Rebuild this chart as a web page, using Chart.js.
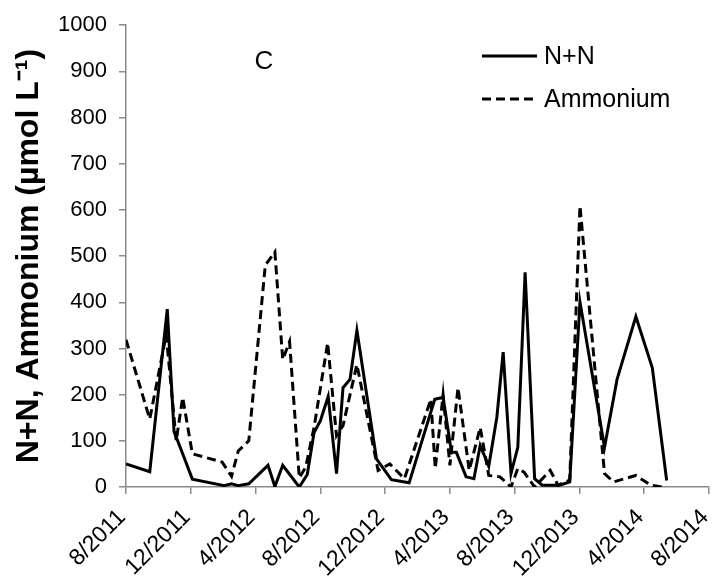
<!DOCTYPE html>
<html>
<head>
<meta charset="utf-8">
<script src="https://cdn.jsdelivr.net/npm/chart.js@4/dist/chart.umd.min.js"></script>
<style>
  html, body { margin: 0; padding: 0; background: #fff; }
  #wrap { width: 712px; height: 584px; position: relative; }
</style>
</head>
<body>
<div id="wrap"><canvas id="c" width="712" height="584"></canvas></div>
<script>
// ---- Data ----
const seriesNames = ["N+N", "Ammonium"];
const panelLabel = "C";
const yTitle = "N+N, Ammonium (\u00B5mol L\u207B\u00B9)";
const yTicks = [0, 100, 200, 300, 400, 500, 600, 700, 800, 900, 1000];
const xTickLabels = ["8/2011", "12/2011", "4/2012", "8/2012", "12/2012", "4/2013", "8/2013", "12/2013", "4/2014", "8/2014"];

const nnDates = [
  "2011-08-01","2011-09-15","2011-10-18","2011-10-31","2011-11-16","2011-12-04",
  "2012-02-03","2012-02-16","2012-02-28","2012-03-19","2012-04-24","2012-05-07",
  "2012-05-22","2012-06-22","2012-07-07","2012-07-20","2012-08-01","2012-08-16",
  "2012-09-01","2012-09-13","2012-09-26","2012-10-09","2012-11-15","2012-12-13",
  "2013-01-16","2013-03-03","2013-03-19","2013-04-04","2013-04-13","2013-05-01",
  "2013-05-16","2013-05-28","2013-06-13","2013-06-28","2013-07-10","2013-07-25",
  "2013-08-07","2013-08-21","2013-09-08","2013-09-22","2013-10-25","2013-11-13",
  "2013-12-02","2014-01-18","2014-02-10","2014-03-16","2014-04-16","2014-05-13"
];
const nnValues = [
  50, 33, 385, 120, 72, 17,
  3, 7, 3, 7, 47, 1,
  47, 0, 27, 118, 143, 196,
  29, 215, 233, 339, 61, 16,
  9, 190, 194, 75, 75, 22,
  18, 90, 45, 151, 292, 29,
  86, 465, 18, 4, 4, 11,
  401, 86, 233, 369, 258, 14
];

const ammDates = [
  "2011-08-01","2011-09-15","2011-10-16","2011-11-04","2011-11-16","2011-12-04",
  "2012-01-30","2012-02-16","2012-02-28","2012-03-19","2012-04-19","2012-05-07",
  "2012-05-22","2012-06-04","2012-06-22","2012-07-04","2012-07-20","2012-08-15",
  "2012-09-01","2012-09-13","2012-10-09","2012-11-18","2012-12-10","2013-01-07",
  "2013-02-24","2013-03-04","2013-03-19","2013-04-01","2013-04-16","2013-05-07",
  "2013-05-28","2013-06-13","2013-07-04","2013-07-25","2013-08-07","2013-08-19",
  "2013-09-08","2013-10-07","2013-10-22","2013-11-13","2013-12-02","2014-01-18",
  "2014-02-04","2014-03-16","2014-04-13","2014-05-04"
];
const ammValues = [
  319, 147, 330, 100, 194, 72,
  54, 23, 78, 100, 480, 509,
  276, 315, 20, 43, 129, 312,
  111, 133, 265, 36, 50, 18,
  190, 40, 200, 47, 215, 36,
  129, 25, 22, 0, 40, 32,
  0, 36, 4, 15, 609, 29,
  11, 25, 4, 0
];

// ---- helpers ----
function monthsSinceStart(s) {
  const [y, m, d] = s.split("-").map(Number);
  const dim = new Date(y, m, 0).getDate();
  return (y - 2011) * 12 + (m - 8) + (d - 1) / dim;
}
function toPoints(dates, vals) {
  return dates.map((d, i) => ({ x: monthsSinceStart(d), y: vals[i] }));
}

const AXIS = "#898989";
const FONT = "'Liberation Sans', Arial, sans-serif";

const overlay = {
  id: "overlay",
  afterDraw(chart) {
    const ctx = chart.ctx;
    ctx.save();
    // panel label
    ctx.fillStyle = "#000";
    ctx.font = "26px " + FONT;
    ctx.textAlign = "center";
    ctx.textBaseline = "middle";
    ctx.fillText(panelLabel, 264, 62);
    // legend
    const items = chart.data.datasets;
    const ys = [56, 99];
    items.forEach((ds, i) => {
      ctx.beginPath();
      ctx.strokeStyle = "#000";
      ctx.lineWidth = 3;
      ctx.setLineDash(ds.borderDash || []);
      ctx.moveTo(482, ys[i]);
      ctx.lineTo(537, ys[i]);
      ctx.stroke();
      ctx.setLineDash([]);
      ctx.font = "25px " + FONT;
      ctx.textAlign = "left";
      ctx.textBaseline = "middle";
      ctx.fillStyle = "#000";
      ctx.fillText(ds.label, 544, ys[i] + 1);
    });
    ctx.restore();
  }
};

new Chart(document.getElementById("c"), {
  type: "line",
  data: {
    datasets: [
      {
        label: seriesNames[0],
        data: toPoints(nnDates, nnValues),
        borderColor: "#000",
        borderWidth: 3,
        pointRadius: 0,
        tension: 0,
        fill: false
      },
      {
        label: seriesNames[1],
        data: toPoints(ammDates, ammValues),
        borderColor: "#000",
        borderWidth: 3,
        borderDash: [9, 5],
        pointRadius: 0,
        tension: 0,
        fill: false
      }
    ]
  },
  options: {
    responsive: false,
    animation: false,
    devicePixelRatio: 1,
    layout: { padding: { left: 0, right: 3, top: 10, bottom: 0 } },
    plugins: {
      legend: { display: false },
      tooltip: { enabled: false }
    },
    scales: {
      x: {
        type: "linear",
        min: 0,
        max: 36,
        grid: { drawOnChartArea: false, drawTicks: true, tickLength: 7, color: AXIS, lineWidth: 1.5 },
        border: { color: AXIS, width: 1.5 },
        afterBuildTicks(scale) {
          scale.ticks = xTickLabels.map((_, i) => ({ value: i * 4 }));
        },
        ticks: {
          autoSkip: false,
          minRotation: 45,
          maxRotation: 45,
          padding: 10,
          labelOffset: -4,
          color: "#000",
          font: { family: FONT, size: 23 },
          callback: (v, i) => xTickLabels[i]
        },
        afterFit(scale) {
          scale.height = 97;
          scale.paddingLeft = 0;
          scale.paddingRight = 0;
        }
      },
      y: {
        min: 0,
        max: 1000,
        afterBuildTicks(scale) {
          scale.ticks = yTicks.map(v => ({ value: v }));
        },
        grid: { drawOnChartArea: false, drawTicks: true, tickLength: 7, color: AXIS, lineWidth: 1.5 },
        border: { color: AXIS, width: 1.5 },
        ticks: {
          padding: 12,
          color: "#000",
          font: { family: FONT, size: 22 },
          callback: v => String(v)
        },
        title: {
          display: true,
          text: yTitle,
          color: "#000",
          font: { family: FONT, size: 32, weight: "bold" },
          padding: { top: 10, bottom: 0 }
        },
        afterFit(scale) {
          scale.width = 126;
        }
      }
    }
  },
  plugins: [overlay]
});
</script>
</body>
</html>
